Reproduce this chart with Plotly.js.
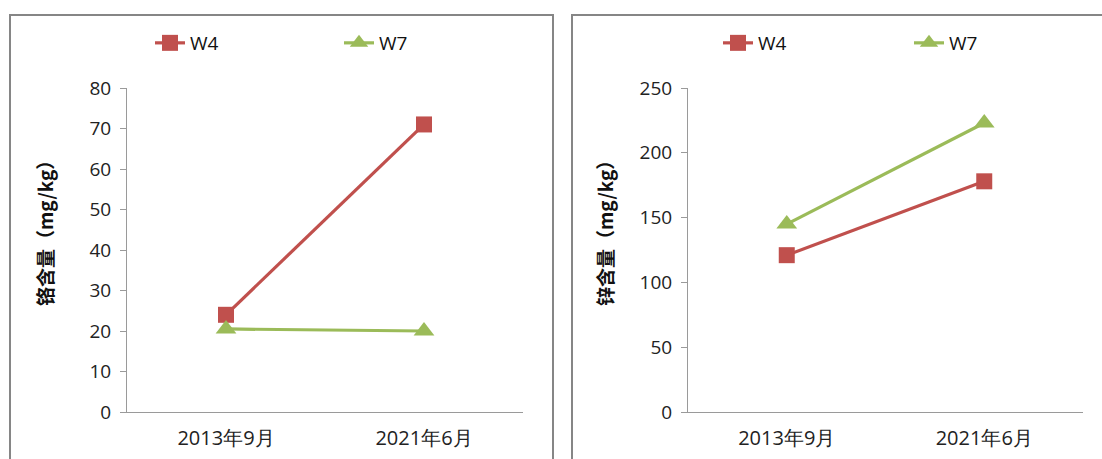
<!DOCTYPE html>
<html>
<head>
<meta charset="utf-8">
<script src="https://cdn.plot.ly/plotly-3.0.1.min.js"></script>
<style>
  html, body { margin: 0; padding: 0; background: #fff; }
  #chart { width: 1102px; height: 459px; }
</style>
</head>
<body>
<div id="chart"></div>
<script>
// Sampling dates
const periods = ['2013年9月', '2021年6月'];

// Chromium content (mg/kg)
const crW4 = [24, 71];
const crW7 = [20.5, 20];

// Zinc content (mg/kg)
const znW4 = [121, 178];
const znW7 = [145, 223];

const seriesNames = ['W4', 'W7'];
const crTitle = '铬含量（mg/kg）';
const znTitle = '锌含量（mg/kg）';

const W = 1102, H = 459;
const px = v => v / W;
const py = v => 1 - v / H;

const RED = '#C0504D';
const GREEN = '#9BBB59';
const FONT = 'Open Sans, Lato, sans-serif';

function series(name, x, y, color, symbol, size, xa, ya, legend) {
  return {
    type: 'scatter', mode: 'lines+markers', name: name,
    x: x, y: y, xaxis: xa, yaxis: ya, legend: legend,
    line: { color: color, width: 3.2 },
    marker: { color: color, symbol: symbol, size: size }
  };
}

const data = [
  series(seriesNames[0], periods, crW4, RED, 'square', 16, 'x', 'y', 'legend'),
  series(seriesNames[1], periods, crW7, GREEN, 'triangle-up', 18, 'x', 'y', 'legend'),
  series(seriesNames[0], periods, znW4, RED, 'square', 16, 'x2', 'y2', 'legend2'),
  series(seriesNames[1], periods, znW7, GREEN, 'triangle-up', 18, 'x2', 'y2', 'legend2')
];

const xBase = {
  type: 'category', range: [-0.5, 1.5], showgrid: false, zeroline: false,
  showline: true, linecolor: '#9a9a9a', linewidth: 1, ticks: '', ticklabelstandoff: 8,
  tickfont: { family: FONT, size: 20, color: '#222' }, fixedrange: true
};
const yBase = {
  showgrid: false, zeroline: false, showline: true, linecolor: '#9a9a9a', linewidth: 1,
  ticks: 'outside', ticklen: 6, tickcolor: '#9a9a9a', ticklabelstandoff: 5,
  tickfont: { family: FONT, size: 19, color: '#222' }, fixedrange: true
};

const legendBase = {
  orientation: 'h', xanchor: 'left', yanchor: 'middle',
  bgcolor: 'rgba(0,0,0,0)', borderwidth: 0, entrywidth: 144, entrywidthmode: 'pixels',
  font: { family: FONT, size: 19, color: '#111' },
  itemclick: false, itemdoubleclick: false
};

const titleFont = { family: 'Noto Sans CJK SC, sans-serif', size: 19, color: '#111', weight: 'bold' };

const layout = {
  width: W, height: H,
  margin: { l: 0, r: 0, t: 0, b: 0 },
  paper_bgcolor: '#fff', plot_bgcolor: 'rgba(0,0,0,0)',
  showlegend: true,
  xaxis: Object.assign({}, xBase, { domain: [px(127), px(523)], anchor: 'y' }),
  yaxis: Object.assign({}, yBase, { domain: [py(412), py(88)], range: [0, 80], dtick: 10, anchor: 'x' }),
  xaxis2: Object.assign({}, xBase, { domain: [px(688), px(1083)], anchor: 'y2' }),
  yaxis2: Object.assign({}, yBase, { domain: [py(412), py(88)], range: [0, 250], dtick: 50, anchor: 'x2' }),
  legend: Object.assign({}, legendBase, { x: px(150), y: py(43) }),
  legend2: Object.assign({}, legendBase, { x: px(718), y: py(43), entrywidth: 146 }),
  annotations: [
    { text: crTitle, xref: 'paper', yref: 'paper', x: px(45), y: py(229), textangle: -90,
      showarrow: false, xanchor: 'center', yanchor: 'middle', font: titleFont },
    { text: znTitle, xref: 'paper', yref: 'paper', x: px(605), y: py(229), textangle: -90,
      showarrow: false, xanchor: 'center', yanchor: 'middle', font: titleFont }
  ],
  shapes: [
    { type: 'rect', xref: 'paper', yref: 'paper', x0: px(10), x1: px(553), y0: py(470), y1: py(15),
      line: { color: '#868686', width: 2 }, fillcolor: 'rgba(0,0,0,0)' },
    { type: 'rect', xref: 'paper', yref: 'paper', x0: px(572), x1: px(1115), y0: py(470), y1: py(15),
      line: { color: '#868686', width: 2 }, fillcolor: 'rgba(0,0,0,0)' }
  ]
};

Plotly.newPlot('chart', data, layout, { displayModeBar: false, staticPlot: true });
</script>
</body>
</html>
